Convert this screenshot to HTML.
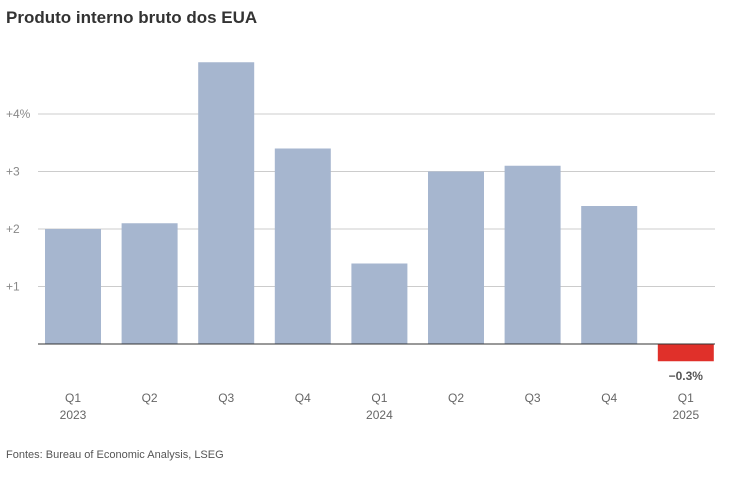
<!DOCTYPE html>
<html><head><meta charset="utf-8"><style>
body{margin:0;background:#fff;font-family:"Liberation Sans",sans-serif}
svg text{font-family:"Liberation Sans",sans-serif}
</style></head><body>
<svg width="738" height="474">
<text x="6" y="23" font-size="17" font-weight="bold" fill="#333">Produto interno bruto dos EUA</text>
<g id="grid"></g><g id="bars"></g><g id="labels"></g>
<text x="6" y="458" font-size="11" fill="#555">Fontes: Bureau of Economic Analysis, LSEG</text>
</svg>
<script>
const quarters=["Q1","Q2","Q3","Q4","Q1","Q2","Q3","Q4","Q1"];
const years=["2023","","","","2024","","","","2025"];
const values=[2.0,2.1,4.9,3.4,1.4,3.0,3.1,2.4,-0.3];
const ticks=[1,2,3,4];
const tickLabels=["+1","+2","+3","+4%"];
const NS="http://www.w3.org/2000/svg";
const y0=344,unit=57.5,x0=45,step=76.6,bw=56;
const y=v=>y0-v*unit, x=i=>x0+i*step;
function mk(t,a,p){const e=document.createElementNS(NS,t);for(const k in a)e.setAttribute(k,a[k]);p.appendChild(e);return e;}
const g=document.getElementById('grid'),b=document.getElementById('bars'),l=document.getElementById('labels');
ticks.forEach((t,i)=>{
 const ln=mk('line',{x1:38,x2:715,y1:y(t),y2:y(t),stroke:'#ccc','stroke-width':1},g);
 
 
 const tx=mk('text',{x:6,y:y(t)+4,'font-size':12,fill:'#888'},g);tx.textContent=tickLabels[i];
 
 
});
values.forEach((v,i)=>{
 const top=Math.min(y(v),y0),h=Math.abs(y(v)-y0);
 const r=mk('rect',{x:x(i),y:top,width:bw,height:h,fill:v<0?'#e0302a':'#a6b6cf'},b);
 
 
 const cx=x(i)+bw/2;
 const q=mk('text',{x:cx,y:402,'font-size':12,fill:'#666','text-anchor':'middle'},l);q.textContent=quarters[i];
 
 
 if(years[i]){const yt=mk('text',{x:cx,y:419,'font-size':12,fill:'#666','text-anchor':'middle'},l);yt.textContent=years[i];
 
 }
 if(v<0){const vl=mk('text',{x:cx,y:380,'font-size':12,'font-weight':'bold',fill:'#555','text-anchor':'middle'},l);vl.textContent='\u2212'+Math.abs(v).toFixed(1)+'%';
 
 }
});
const z=mk('line',{x1:38,x2:715,y1:y0,y2:y0,stroke:'#333','stroke-width':1},b);


</script>
</body></html>
